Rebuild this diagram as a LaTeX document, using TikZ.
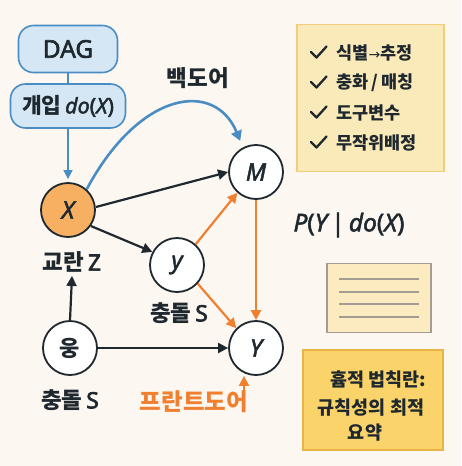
\documentclass[tikz,border=0pt]{standalone}
\usepackage{fontspec}
\setmainfont{Noto Sans CJK KR}
\newfontfamily\lat{Noto Sans}[AutoFakeBold=2.2, ItalicFeatures={FakeBold=2}]
\newfontfamily\latb{Noto Sans}[AutoFakeBold=2.8]
\newfontfamily\sym{DejaVu Sans}
\usetikzlibrary{arrows.meta}
\definecolor{bg}{HTML}{FCF8F1}
\definecolor{ink}{HTML}{1E282E}
\definecolor{bblue}{HTML}{4A8CC4}
\definecolor{fblue}{HTML}{D5E7F5}
\definecolor{orng}{HTML}{F08030}
\definecolor{xfill}{HTML}{F7B062}
\definecolor{chkfill}{HTML}{FBEAB9}
\definecolor{chkdraw}{HTML}{F2CE7A}
\definecolor{yfill}{HTML}{FAD46A}
\definecolor{ydraw}{HTML}{E8B446}
\definecolor{docfill}{HTML}{FCEBC0}
\definecolor{docdraw}{HTML}{A39C90}
\tikzset{
  bluebox/.style={draw=bblue, fill=fblue, line width=1.6pt, rounded corners=15pt, text=ink},
  var/.style={circle, draw=ink, fill=white, line width=1.8pt, minimum size=54pt, inner sep=0pt, text=ink, font=\lat\mdseries\fontsize{24}{26}\selectfont\itshape},
  lbl/.style={text=ink, font=\fontsize{22.5}{24}\selectfont\bfseries},
  blk/.style={draw=ink, line width=2.2pt, -{Triangle[length=10pt,width=10pt]}},
  org/.style={draw=orng, line width=2.2pt, -{Triangle[length=10pt,width=10pt]}},
  blu/.style={draw=bblue, line width=2.6pt, -{Triangle[length=10pt,width=11pt]}},
  chk/.style={anchor=west, text=ink, font=\fontsize{17.5}{19}\selectfont\bfseries},
  chkmark/.style={draw=ink, line width=2.3pt, line cap=round, line join=round},
  sumtxt/.style={text=ink, font=\fontsize{18.5}{20}\selectfont\bfseries},
}
\begin{document}
\begin{tikzpicture}[x=1pt,y=-1pt]
\useasboundingbox (0,0) rectangle (461,466);
\fill[bg] (0,0) rectangle (461,466);

% top boxes
\node[bluebox, minimum width=99pt, minimum height=47pt] (dag) at (68,49) {\lat\bfseries\fontsize{24.5}{26}\selectfont DAG};
\node[bluebox, minimum width=115pt, minimum height=44pt] (int) at (68,106) {\fontsize{21.5}{23}\selectfont\bfseries 개입\,{\lat\mdseries\itshape do}{\lat\bfseries(}{\lat\mdseries\itshape X}{\lat\bfseries)}};
\draw[bblue, line width=1.6pt] (dag) -- (int);

% variable nodes
\node[var, fill=xfill] (X) at (68,210) {X};
\node[var] (y) at (177,265) {y};
\node[var, font=\fontsize{22}{24}\selectfont\bfseries] (w) at (70,348) {웅};
\node[var] (M) at (256,172) {M};
\node[var] (Y) at (256,348) {Y};

% labels
\node[lbl] (lz) at (72,262) {교란\,{\latb\bfseries Z}};
\node[lbl] (ls1) at (179,313) {충돌\,{\latb\bfseries S}};
\node[lbl] (ls2) at (70,400) {충돌\,{\latb\bfseries S}};
\node[lbl] (lb) at (198,78) {백도어};
\node[lbl, text=orng, font=\fontsize{23.5}{25}\selectfont\bfseries] (lf) at (194,402) {프란트도어};
\node[text=ink, font=\lat\fontsize{24.5}{26}\selectfont] (P) at (349,225) {\mdseries\itshape P\bfseries\upshape(\mdseries\itshape Y\bfseries\upshape\,|\,\mdseries\itshape do\bfseries\upshape(\mdseries\itshape X\bfseries\upshape)};

% arrows
\draw[bblue, line width=1.6pt, -{Triangle[length=9pt,width=9pt]}] (int) -- ([yshift=3pt]X.north);
\draw[blu, shorten >=7pt] (X.48) .. controls (140,90) and (215,80) .. (M.118);
\draw[blk] (X.east) ++(0,-3) -- (M.west) ;
\draw[blk] (X.-35) -- (y.152);
\draw[org] (y.48) -- (M.228);
\draw[org] (y.-42) -- (Y.135);
\draw[org] (M.south) -- (Y.north);
\draw[blk] (w.east) -- (Y.west);
\draw[blk] (w.north) -- (lz.south);
\coordinate (fa) at (244,397);
\draw[org] (fa) -- ([xshift=-12pt]Y.south);

% checklist
\node[draw=chkdraw, fill=chkfill, line width=1.5pt, minimum width=147pt, minimum height=147pt] (cl) at (370.5,98) {};
\node[chk] (c1) at (333,53) {식별{\sym\mdseries\fontsize{14}{14}\selectfont →}추정};
\node[chk] (c2) at (333,83) {충화\,/\,매칭};
\node[chk] (c3) at (333,113) {도구변수};
\node[chk] (c4) at (333,143) {무작위배정};
\foreach \n in {c1,c2,c3,c4}
  \draw[chkmark] ([shift={(-22pt,1pt)}]\n.west) -- ++(5.5,5.5) -- ++(10,-11);

% document icon
\node[draw=docdraw, fill=docfill, line width=1.5pt, minimum width=104pt, minimum height=69pt] (doc) at (379,298) {};
\foreach \yy in {279,292,304,317}
  \draw[docdraw, line width=1.3pt] (339,\yy) -- (419,\yy);

% summary box
\node[draw=ydraw, fill=yfill, line width=1.5pt, minimum width=140pt, minimum height=100pt] (sum) at (373,400) {};
\node[sumtxt] (s1) at (378,380) {흄적 법칙란:};
\node[sumtxt] (s2) at (371,408) {규칙성의 최적};
\node[sumtxt] (s3) at (365,433) {요약};
\end{tikzpicture}
\end{document}
